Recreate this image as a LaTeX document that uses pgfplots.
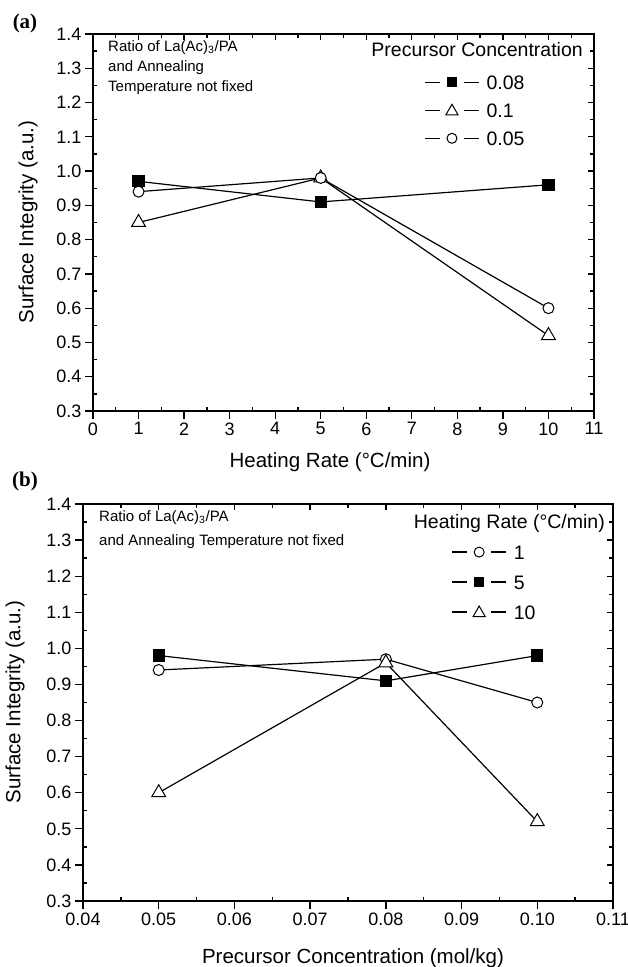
\documentclass[border=0pt]{standalone}
\usepackage{fontspec}
\setmainfont{Liberation Sans}
\newfontfamily\serifbf{Liberation Serif}
\usepackage{pgfplots}
\pgfplotsset{compat=1.18}
\pgfplotsset{
  common/.style={
    scale only axis, anchor=south west,
    axis line style={line width=1.6pt},
    every tick/.style={line width=1.3pt, black},
    major tick length=8pt, minor tick length=4pt,
    ymin=0.3, ymax=1.4,
    ytick={0.3,0.4,0.5,0.6,0.7,0.8,0.9,1.0,1.1,1.2,1.3,1.4},
    minor y tick num=1, minor x tick num=1,
  },
  mainax/.style={common,
    minor y tick num=0, minor x tick num=0,
    tick align=outside, xtick pos=bottom, ytick pos=left,
    yticklabels={0.3,0.4,0.5,0.6,0.7,0.8,0.9,1.0,1.1,1.2,1.3,1.4},
    tick label style={font=\fontsize{18}{18}\selectfont},
    legend cell align=left,
    legend style={draw=none, fill=none, inner sep=0pt, anchor=north west,
      row sep=14pt, column sep=7pt, font=\fontsize{19.5}{19.5}\selectfont,
      nodes={inner sep=0pt, text height=14pt, text depth=0pt, anchor=west}},
  },
  minorin/.style={common,
    tick align=inside, xtick pos=bottom, ytick pos=left,
    major tick length=0pt, xticklabels={}, yticklabels={},
  },
  mirror/.style={common,
    tick align=inside, xtick pos=top, ytick pos=right,
    major tick length=6pt,
    xticklabels={}, yticklabels={},
  },
  sq/.style={black, line width=1.2pt, mark=square*, mark size=5.5pt, mark options={solid, fill=black},
    legend image code/.code={
      \draw[line width=1.2pt] (0pt,0pt) -- (15pt,0pt) (39pt,0pt) -- (54pt,0pt);
      \draw[only marks, mark size=4.5pt] plot coordinates {(27pt,0pt)};}},
  tri/.style={black, line width=1.2pt, mark=triangle*, mark size=8pt, mark options={solid, fill=white, line width=1pt},
    legend image code/.code={
      \draw[line width=1.2pt] (0pt,0pt) -- (15pt,0pt) (39pt,0pt) -- (54pt,0pt);
      \draw[only marks, mark size=7pt] plot coordinates {(27pt,-1pt)};}},
  cir/.style={black, line width=1.2pt, mark=*, mark size=5.5pt, mark options={solid, fill=white, line width=1pt},
    legend image code/.code={
      \draw[line width=1.2pt] (0pt,0pt) -- (15pt,0pt) (39pt,0pt) -- (54pt,0pt);
      \draw[only marks, mark size=5pt] plot coordinates {(27pt,0pt)};}},
}
\begin{document}
\begin{tikzpicture}
\useasboundingbox (0pt,0pt) rectangle (628pt,967pt);
% ---------- panel (a)
\begin{axis}[minorin, at={(93pt,556pt)}, width=501pt, height=377pt,
  xmin=0, xmax=11, xtick={0,1,2,3,4,5,6,7,8,9,10,11}]
\end{axis}
\begin{axis}[mirror, at={(93pt,556pt)}, width=501pt, height=377pt,
  xmin=0, xmax=11, xtick={0,1,2,3,4,5,6,7,8,9,10,11}]
\end{axis}
\begin{axis}[mainax, at={(93pt,556pt)}, width=501pt, height=377pt,
  xmin=0, xmax=11, xtick={0,1,2,3,4,5,6,7,8,9,10,11},
  xticklabels={0,1,2,3,4,5,6,7,8,9,10,11},
  legend style={at={(rel axis cs:0.661,0.891)}}]
\addplot[sq] coordinates {(1,0.97) (5,0.91) (10,0.96)};
\addlegendentry{0.08}
\addplot[tri] coordinates {(1,0.85) (5,0.98) (10,0.52)};
\addlegendentry{0.1}
\addplot[cir] coordinates {(1,0.94) (5,0.98) (10,0.60)};
\addlegendentry{0.05}
\end{axis}
% ---------- panel (b)
\begin{axis}[minorin, at={(83pt,66pt)}, width=530pt, height=397pt,
  xmin=0.04, xmax=0.11, xtick={0.04,0.05,0.06,0.07,0.08,0.09,0.10,0.11}]
\end{axis}
\begin{axis}[mirror, at={(83pt,66pt)}, width=530pt, height=397pt,
  xmin=0.04, xmax=0.11, xtick={0.04,0.05,0.06,0.07,0.08,0.09,0.10,0.11}]
\end{axis}
\begin{axis}[mainax, at={(83pt,66pt)}, width=530pt, height=397pt,
  xmin=0.04, xmax=0.11, xtick={0.04,0.05,0.06,0.07,0.08,0.09,0.10,0.11},
  xticklabels={0.04,0.05,0.06,0.07,0.08,0.09,0.10,0.11},
  legend style={at={(rel axis cs:0.695,0.897)}, row sep=16pt}]
\addplot[cir] coordinates {(0.05,0.94) (0.08,0.97) (0.10,0.85)};
\addlegendentry{1}
\addplot[sq] coordinates {(0.05,0.98) (0.08,0.91) (0.10,0.98)};
\addlegendentry{5}
\addplot[tri] coordinates {(0.05,0.60) (0.08,0.96) (0.10,0.52)};
\addlegendentry{10}
\end{axis}
% ---------- texts
\begin{scope}[x=1pt,y=1pt]
\node[font=\serifbf\bfseries\fontsize{21}{21}\selectfont] at (25,944) {(a)};
\node[font=\serifbf\bfseries\fontsize{21}{21}\selectfont] at (25,486) {(b)};
\node[rotate=90, font=\fontsize{20.5}{20.5}\selectfont] at (28,745) {Surface Integrity (a.u.)};
\node[rotate=90, font=\fontsize{20.5}{20.5}\selectfont] at (15,265) {Surface Integrity (a.u.)};
\node[font=\fontsize{20.5}{20.5}\selectfont] at (330,505) {Heating Rate (°C/min)};
\node[font=\fontsize{20.5}{20.5}\selectfont] at (353,9) {Precursor Concentration (mol/kg)};
\node[font=\fontsize{19.5}{19.5}\selectfont, anchor=east, inner sep=0pt] at (583,917) {Precursor Concentration};
\node[font=\fontsize{19.5}{19.5}\selectfont, anchor=east, inner sep=0pt] at (605,444) {Heating Rate (°C/min)};
\node[font=\fontsize{15}{20}\selectfont, anchor=north west, align=left, inner sep=0pt] at (108,927)
  {Ratio of La(Ac)\textsubscript{3}/PA\\and Annealing\\Temperature not fixed};
\node[font=\fontsize{15}{24}\selectfont, anchor=north west, align=left, inner sep=0pt] at (99,457)
  {Ratio of La(Ac)\textsubscript{3}/PA\\and Annealing Temperature not fixed};
\end{scope}
\end{tikzpicture}
\end{document}
